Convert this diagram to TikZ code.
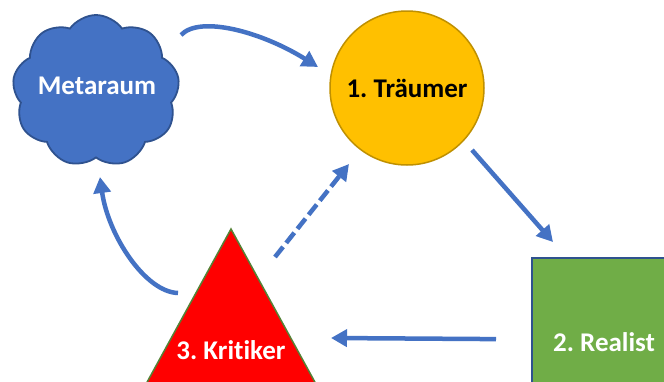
\documentclass[tikz,border=0pt]{standalone}
\usepackage{fontspec}
\setmainfont{Carlito}[Ligatures=NoCommon]
\usetikzlibrary{shapes.symbols,arrows.meta}
\definecolor{obl}{HTML}{4472C4}
\definecolor{obldk}{HTML}{2F528F}
\definecolor{ogold}{HTML}{FFC000}
\definecolor{ogolddk}{HTML}{BF9000}
\definecolor{ored}{HTML}{FF0000}
\definecolor{ogrn}{HTML}{70AD47}
\definecolor{ogrndk}{HTML}{548235}
\tikzset{
  lbl/.style={font=\fontsize{27}{31}\selectfont\bfseries, inner sep=0pt},
  flow/.style={draw=obl, line width=4.5pt, -{Triangle[length=16pt,width=17pt]}},
  dflow/.style={flow, dash pattern=on 13pt off 5pt},
}
\begin{document}
\begin{tikzpicture}[x=1pt,y=-1pt]
\useasboundingbox (0,0) rectangle (664,381);
\clip (0,0) rectangle (664,381);
\fill[white] (0,0) rectangle (664,381);
% cloud
\node[cloud, cloud puffs=9, cloud puff arc=110, aspect=1.1, minimum width=167pt, minimum height=152pt,
      fill=obl, draw=obldk, line width=1.8pt] (meta) at (96,91) {};
\node[lbl, text=white] (metat) at (97,86) {Metaraum};
% circle
\node[circle, minimum size=154pt, inner sep=0pt, fill=ogold, draw=ogolddk, line width=1.5pt,
      lbl, text=black] (dream) at (407,88) {1.~Träumer};
% rectangle
\node[rectangle, anchor=north west, minimum width=144pt, minimum height=168pt,
      fill=ogrn, draw=obldk, line width=2.2pt, lbl, text=white] (real) at (531,257) {2.~Realist};
% triangle
\coordinate (apex) at (231,229);
\filldraw[fill=ored, draw=ogrndk, line width=1.5pt] (apex) -- (140,395) -- (322,395) -- cycle;
\node[lbl, text=white] (krit) at (231,350) {3.~Kritiker};
% connectors
\draw[flow] ([shift={(85pt,56pt)}]meta.center) .. controls (200,15) and (262,32) .. ([shift={(-89pt,21pt)}]dream.center);
\draw[flow] ([shift={(65pt,-62pt)}]dream.center) -- ([shift={(22pt,15pt)}]real.north west);
\draw[flow] ([shift={(-35pt,3pt)}]real.west) -- ([shift={(100pt,12pt)}]krit.center);
\draw[flow] ([shift={(-53pt,-64pt)}]apex) .. controls (145,292) and (108,235) .. ([shift={(4pt,-86pt)}]meta.center);
\draw[dflow] ([shift={(44pt,-28pt)}]apex) -- ([shift={(-58pt,-76pt)}]dream.center);
\end{tikzpicture}
\end{document}
